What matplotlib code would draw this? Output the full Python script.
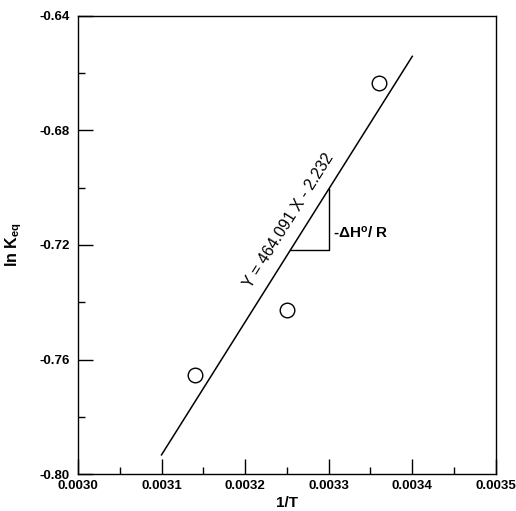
import numpy as np
import matplotlib.pyplot as plt
from matplotlib.ticker import MultipleLocator

plt.rcParams['font.family'] = ['Liberation Sans', 'DejaVu Sans']
plt.rcParams['mathtext.fontset'] = 'custom'
plt.rcParams['mathtext.rm'] = 'Liberation Sans'
plt.rcParams['mathtext.it'] = 'Liberation Sans:italic'
plt.rcParams['mathtext.bf'] = 'Liberation Sans:bold'

# data
inv_T = [0.00314, 0.00325, 0.00336]
ln_keq = [-0.7655, -0.7427, -0.6633]

slope = 464.091
intercept = -2.232
fit_x = [0.0031, 0.0034]

x_ticks = [0.0030, 0.0031, 0.0032, 0.0033, 0.0034, 0.0035]
y_ticks = [-0.80, -0.76, -0.72, -0.68, -0.64]

fig = plt.figure(figsize=(5.16, 5.11), dpi=100)
ax = fig.add_axes([0.151, 0.0724, 0.81, 0.8963])

fx = np.array(fit_x)
ax.plot(fx, slope * fx + intercept, color='black', lw=1.1)
ax.plot(inv_T, ln_keq, 'o', ms=10.5, mfc='white', mec='black', mew=1.0)

# slope triangle
tri_x0 = 0.003254
tri_x1 = 0.0033
tri_y0 = slope * tri_x0 + intercept
tri_y1 = slope * tri_x1 + intercept
ax.plot([tri_x0, tri_x1, tri_x1], [tri_y0, tri_y0, tri_y1], color='black', lw=1.0)
ax.text(0.003305, -0.7155, r'-$\mathbf{\Delta}$H$^{\mathbf{o}}$/ R', fontsize=11,
        fontweight='bold', va='center', ha='left')

ax.text(0.0032525, -0.7115, 'Y = 464.091 X - 2.232', fontsize=11.5,
        rotation=57.8, rotation_mode='anchor', ha='center', va='center')

ax.set_xlim(0.0030, 0.0035)
ax.set_ylim(-0.80, -0.64)
ax.set_xticks(x_ticks)
ax.set_yticks(y_ticks)
ax.set_xticklabels([f'{v:.4f}' for v in x_ticks], fontweight='bold')
ax.set_yticklabels([f'{v:.2f}' for v in y_ticks], fontweight='bold')
ax.xaxis.set_minor_locator(MultipleLocator(0.00005))
ax.yaxis.set_minor_locator(MultipleLocator(0.02))
ax.tick_params(which='major', direction='in', length=10.5, width=1, labelsize=9.5)
ax.tick_params(which='minor', direction='in', length=5, width=1)
ax.tick_params(axis='x', pad=4.5)
ax.tick_params(axis='y', pad=6)
ax.tick_params(top=False, right=False)
for s in ax.spines.values():
    s.set_linewidth(1.0)

ax.set_xlabel('1/T', fontsize=11, fontweight='bold', labelpad=3)
ax.set_ylabel(r'ln K$_{\mathbf{eq}}$', fontsize=11.5, fontweight='bold', labelpad=11)

fig.savefig('out.png', dpi=100)
